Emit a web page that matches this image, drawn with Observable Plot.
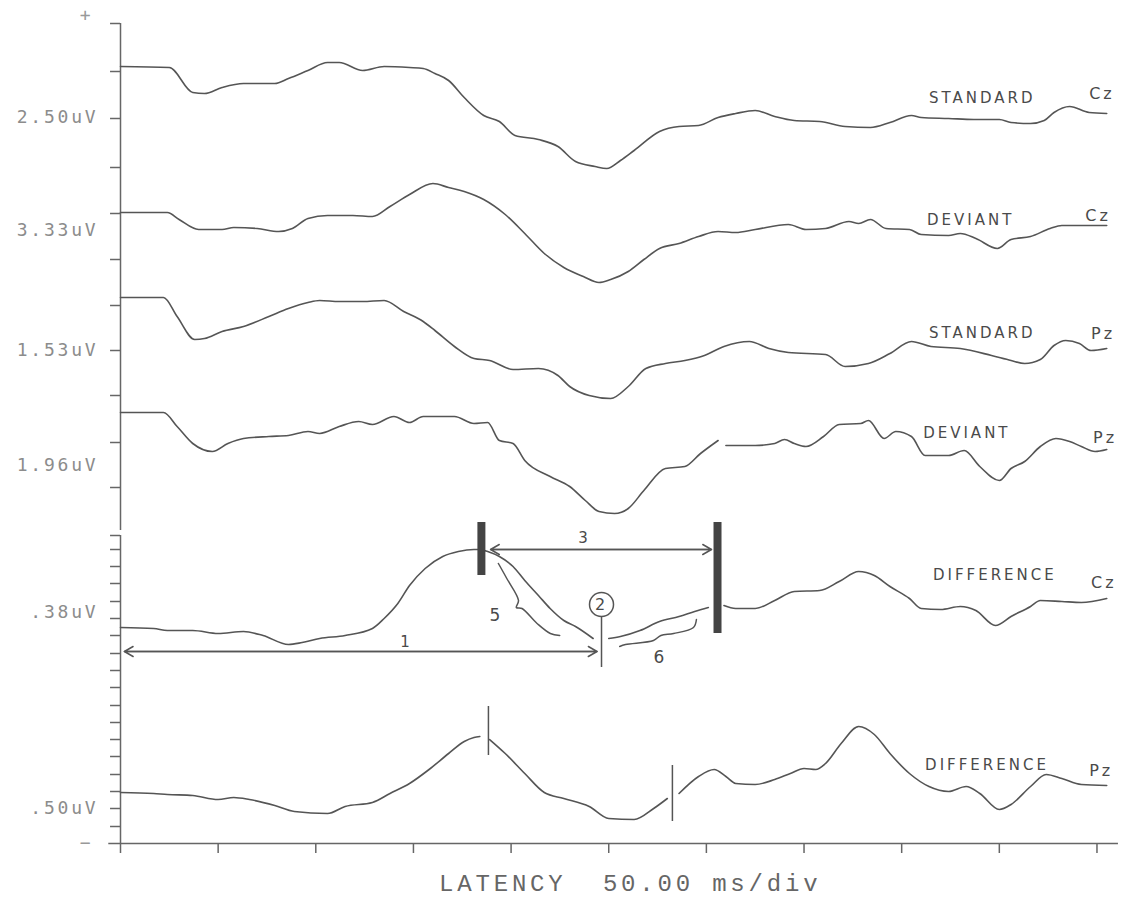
<!DOCTYPE html>
<html><head><meta charset="utf-8">
<script src="https://cdn.jsdelivr.net/npm/d3@7"></script>
<script src="https://cdn.jsdelivr.net/npm/@observablehq/plot@0.6"></script>
<style>
body{margin:0;background:#fff;}
g[font-family="DejaVu Sans Mono"] text{letter-spacing:2.8px;}
g[font-family="DejaVu Sans"] text{letter-spacing:3px;}
g[font-family="Liberation Mono"] text{letter-spacing:3.8px;white-space:pre;}
</style></head><body><div id="chart"></div>
<script>
// ---- traces: latency (ms) and amplitude relative to each trace's own baseline ----
const traceNames = ["STANDARD Cz","DEVIANT Cz","STANDARD Pz","DEVIANT Pz","DIFFERENCE Cz","DIFFERENCE Pz"];
const traceBaselines = [777, 631, 546, 431, 216, 51];

const stdCzTime = [0,25,37,43,52,63,79,86,96,106,112,124,135,148,155,161,168,176,186,194,202,214,224,233,243,249,256,263,276,286,296,306,315,325,335,345,358,371,384,394,405,410,424,437,450,456,466,473,478,486,496,505];
const stdCzAmp  = [0,-1,-26,-27,-21,-17,-17,-12,-4,4,4,-4,0,-1,-2,-7,-14,-31,-49,-55,-69,-73,-80,-95,-100,-102,-94,-84,-65,-60,-59,-51,-47,-44,-50,-54,-55,-60,-61,-56,-49,-51,-52,-53,-53,-56,-57,-54,-46,-40,-46,-47];

const devCzTime = [0,24,30,40,52,58,70,81,88,96,106,119,129,138,148,160,168,176,186,197,207,217,227,237,245,251,260,268,276,286,296,306,315,325,342,351,361,373,378,384,392,404,410,424,430,438,449,456,466,476,482,505];
const devCzAmp  = [0,0,-7,-17,-17,-15,-16,-19,-16,-6,-3,-3,-4,6,18,29,25,21,13,-2,-21,-41,-55,-64,-70,-67,-59,-47,-36,-31,-24,-19,-20,-17,-12,-17,-16,-9,-11,-7,-16,-17,-22,-23,-21,-26,-36,-27,-24,-16,-13,-13];

const stdPzTime = [0,22,29,38,43,52,63,76,86,96,102,112,124,135,145,155,161,171,181,189,201,214,224,230,240,251,260,269,279,289,299,309,322,332,342,361,371,383,394,405,415,430,446,456,463,471,478,484,491,497,505];
const stdPzAmp  = [0,0,-19,-42,-41,-34,-29,-19,-11,-5,-3,-4,-4,-3,-14,-24,-33,-49,-61,-63,-72,-71,-78,-89,-98,-101,-89,-71,-66,-63,-58,-49,-44,-51,-55,-57,-69,-66,-56,-44,-49,-51,-58,-63,-66,-62,-48,-43,-46,-53,-51];

const devPzTime = [0,22,29,37,47,55,63,76,86,96,102,112,122,129,140,148,155,171,181,188,194,201,207,220,230,238,245,253,260,268,279,289,297,306,308,310,325,335,340,345,351,360,368,379,383,391,397,405,412,424,432,440,450,456,463,471,479,486,492,499,505];
const devPzAmp  = [0,0,-14,-31,-39,-31,-26,-24,-23,-19,-21,-14,-9,-12,-4,-10,-4,-4,-11,-10,-28,-31,-48,-64,-74,-88,-99,-101,-96,-78,-56,-54,-41,-28,null,-33,-33,-31,-27,-31,-34,-24,-12,-11,-8,-26,-19,-24,-43,-43,-38,-54,-68,-56,-49,-34,-26,-29,-34,-39,-37];

const difCzTime = [0,17,24,37,50,63,73,86,93,102,115,129,135,142,148,156,165,173,181,184,188,194,201,207,214,220,227,233,242,246,250,256,266,276,286,294,301,305,309,315,325,335,345,358,368,378,386,394,404,410,420,430,438,448,456,466,471,482,492,505];
const difCzAmp  = [0,-1,-3,-3,-6,-4,-8,-17,-15,-11,-8,-1,9,24,42,59,71,76,78,78,76,71,61,47,32,19,7,1,-11,null,-11,-9,-3,6,11,16,20,null,22,19,19,27,36,37,46,56,52,41,29,19,18,21,17,2,11,21,27,26,25,29];

const difPzTime = [0,17,24,37,50,58,66,79,89,106,115,129,138,148,158,168,176,181,184,187,189,197,207,217,227,240,250,263,273,280,283,286,296,304,310,315,325,335,343,350,356,361,369,378,386,394,404,414,424,433,440,450,456,466,474,482,492,505];
const difPzAmp  = [0,-1,-2,-3,-7,-5,-7,-13,-19,-21,-14,-10,-1,9,23,39,51,55,56,null,53,39,19,0,-6,-14,-26,-27,-16,-6,null,-1,16,23,16,9,8,13,19,24,23,29,49,66,58,39,19,6,1,6,-1,-17,-12,6,18,14,8,7];

const traceTimes = [stdCzTime, devCzTime, stdPzTime, devPzTime, difCzTime, difPzTime];
const traceAmps  = [stdCzAmp, devCzAmp, stdPzAmp, devPzAmp, difCzAmp, difPzAmp];

// ---- axes ----
const xTicks = [0,50,100,150,200,250,300,350,400,450,500];
const yTicks = [820,772,725,676,630,584,538,493,448,401,356,308,294,277,260,242,225,208,190,173,156,138,121,104,87,69,52,35,17];
const yAxisFrom = [313, 0];
const yAxisTo   = [820, 308];
const scaleLabels = ["2.50uV","3.33uV","1.53uV","1.96uV",".38uV",".50uV"];
const scaleLevels = [726, 613, 493, 378, 231, 35];
const polaritySigns = ["+","\u2212"];
const polarityLevels = [828, 0];
const axisTitle = "LATENCY  50.00 ms/div";

// ---- trace labels ----
const condWords = ["STANDARD","DEVIANT","STANDARD","DEVIANT","DIFFERENCE","DIFFERENCE"];
const condT = [414,413,414,411,416,412];
const condV = [745,623,510,410,268,78];
const siteWords = ["Cz","Cz","Pz","Pz","Cz","Pz"];
const siteT = [496,494,497,498,497,496];
const siteV = [750,628,510,406,261,73];

// ---- hand-drawn annotations ----
const barT = [184.8, 305.7];
const barFrom = [268, 210];
const barTo = [321, 321];
const spanLabels = ["1","3"];
const spanStart = [2, 189.5];
const spanEnd = [244, 302.6];
const spanLevel = [192, 294];
const spanLabelT = [146.4, 237.6];
const spanLabelV = [201, 305];
const peakMarkT = [246.3];
const peakMarkV = [239];
const peakStemFrom = [176];
const peakStemTo = [227];
const pzMarkT = [188.4, 282.6];
const pzMarkFrom = [88, 22];
const pzMarkTo = [137, 78];
const bracket5T = [193.5, 197.8, 203.8, 202.7, 205.6, 213.3, 220.1, 224.9];
const bracket5V = [280, 265, 243, 236, 235, 220, 210, 208];
const bracket6T = [255.6, 258.6, 272.9, 276.7, 283.2, 293.4, 294.9];
const bracket6V = [197, 199, 203, 208, 210, 216, 224];
const bracketLabels = ["5","6"];
const bracketLabelT = [192.5, 276.5];
const bracketLabelV = [228, 186];

// ---- build tables ----
const rows = [];
traceNames.forEach((name, i) => {
  traceTimes[i].forEach((t, j) => {
    const a = traceAmps[i][j];
    rows.push({trace: name, t, v: a == null ? NaN : traceBaselines[i] + a});
  });
});
const axisSpans = yAxisFrom.map((f, i) => ({from: f, to: yAxisTo[i]}));
const bars = barT.map((t, i) => ({t, from: barFrom[i], to: barTo[i]}));
const spans = spanStart.map((s, i) => ({a: s, b: spanEnd[i], v: spanLevel[i]}));
const pzMarks = pzMarkT.map((t, i) => ({t, from: pzMarkFrom[i], to: pzMarkTo[i]}));
const b5 = bracket5T.map((t, i) => ({t, v: bracket5V[i]}));
const b6 = bracket6T.map((t, i) => ({t, v: bracket6V[i]}));

const ink = "#555";
const hand = {fontFamily: "DejaVu Sans", fill: "#4a4a4a"};

const chart = Plot.plot({
  width: 1124, height: 906,
  marginLeft: 120, marginRight: 8, marginTop: 0, marginBottom: 63,
  x: {domain: [0, 510], axis: null},
  y: {domain: [0, 843], axis: null},
  style: {background: "#fff"},
  marks: [
    // axes
    Plot.ruleX(axisSpans, {x: 0, y1: "from", y2: "to", stroke: "#666", strokeWidth: 1.5}),
    Plot.ruleY([0], {x1: -6, x2: 511, stroke: "#666", strokeWidth: 1.5}),
    Plot.ruleY(yTicks, {x1: -5.1, x2: 0, stroke: "#666", strokeWidth: 1.5}),
    Plot.ruleX(xTicks, {y1: 0, y2: -10, stroke: "#666", strokeWidth: 1.5}),
    Plot.text(scaleLabels, {x: 0, y: (d, i) => scaleLevels[i], dx: -22, textAnchor: "end", fontFamily: "DejaVu Sans Mono", fontSize: 18, fill: "#8c8c8c"}),
    Plot.text(polaritySigns, {x: 0, y: (d, i) => polarityLevels[i], dx: -34, fontFamily: "DejaVu Sans Mono", fontSize: 18, fill: "#999"}),
    Plot.text([axisTitle], {x: 261, y: -40, fontFamily: "Liberation Mono", fontSize: 24, fill: "#666"}),
    // waveforms
    Plot.line(rows, {x: "t", y: "v", z: "trace", curve: "monotone-x", stroke: ink, strokeWidth: 1.6}),
    // labels
    Plot.text(condWords, {x: (d, i) => condT[i], y: (d, i) => condV[i], textAnchor: "start", fontSize: 15, ...hand}),
    Plot.text(siteWords, {x: (d, i) => siteT[i], y: (d, i) => siteV[i], textAnchor: "start", fontSize: 16, ...hand}),
    // annotations
    Plot.ruleX(bars, {x: "t", y1: "from", y2: "to", stroke: "#444", strokeWidth: 8}),
    Plot.arrow(spans, {x1: "a", x2: "b", y1: "v", y2: "v", stroke: ink, strokeWidth: 1.5, headLength: 10}),
    Plot.arrow(spans, {x1: "b", x2: "a", y1: "v", y2: "v", stroke: ink, strokeWidth: 1.5, headLength: 10}),
    Plot.text(spanLabels, {x: (d, i) => spanLabelT[i], y: (d, i) => spanLabelV[i], fontSize: 15, ...hand}),
    Plot.ruleX(peakMarkT, {x: d => d, y1: (d, i) => peakStemFrom[i], y2: (d, i) => peakStemTo[i], stroke: ink, strokeWidth: 1.5}),
    Plot.dot(peakMarkT, {x: d => d, y: (d, i) => peakMarkV[i], r: 12, stroke: ink, strokeWidth: 1.5, fill: "#fff"}),
    Plot.text(["2"], {x: peakMarkT[0], y: peakMarkV[0], fontSize: 16, ...hand}),
    Plot.ruleX(pzMarks, {x: "t", y1: "from", y2: "to", stroke: ink, strokeWidth: 1.5}),
    Plot.line(b5, {x: "t", y: "v", curve: "catmull-rom", stroke: ink, strokeWidth: 1.5}),
    Plot.line(b6, {x: "t", y: "v", curve: "catmull-rom", stroke: ink, strokeWidth: 1.5}),
    Plot.text(bracketLabels, {x: (d, i) => bracketLabelT[i], y: (d, i) => bracketLabelV[i], fontSize: 17, ...hand})
  ]
});
document.getElementById("chart").appendChild(chart);
</script></body></html>
